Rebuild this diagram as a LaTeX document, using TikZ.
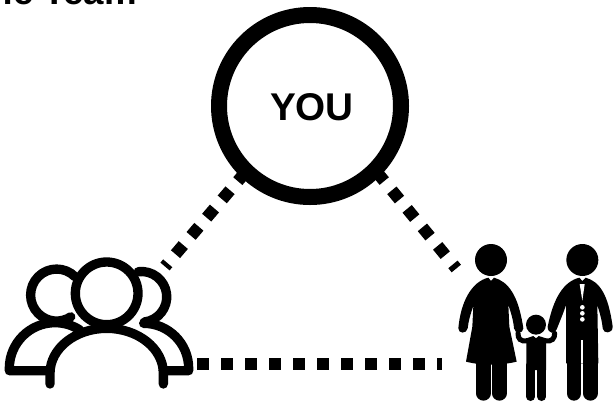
\documentclass[tikz,border=0pt]{standalone}
\usepackage{fontspec}
\setmainfont{Liberation Sans}
\tikzset{
	linkline/.style={line width=9pt, dash pattern=on 9pt off 9pt},
	outline/.style={line width=7pt, line cap=round, line join=round},
	armline/.style={line width=3.8pt, line cap=round},
	legline/.style={line cap=round}
}
\begin{document}
\begin{tikzpicture}[x=0.75pt, y=-0.75pt]
	\useasboundingbox (0,0) rectangle (613,404);
	\clip (0,0) rectangle (613,404);
	\node[anchor=base east, inner sep=0pt, font=\bfseries\fontsize{27.5pt}{27.5pt}\selectfont] (title) at (137,4.5) {The Team};
	% circle at the top
	\node[circle, draw, line width=12pt, minimum size=136.5pt, inner sep=0pt] (you) at (310,106) {};
	\node[font=\bfseries\fontsize{29pt}{29pt}\selectfont] (youtext) at (312,107.5) {YOU};
	% team icon
	\begin{scope}[shift={(0,240)}, x=0.25pt, y=-0.25pt]
		\draw[outline] (225,110) arc[start angle=-45, end angle=-303, radius=78];
		\draw[outline] (320,160) circle[radius=94];
		\draw[outline] (415,95) arc[start angle=-97, end angle=83, radius=76];
		\draw[outline] (140,392) -- (28,392) -- (28,385) arc[start angle=-180, end angle=-57, radius=137];
		\draw[outline] (490,392) -- (566,392) -- (566,385) arc[start angle=0, end angle=-90, radius=135];
		\draw[outline] (150,432) -- (150,400) arc[start angle=-180, end angle=0, x radius=170, y radius=135] -- (490,432);
	\end{scope}
	% family icon
	\begin{scope}[shift={(440,230)}, x=0.25pt, y=-0.25pt]
		\fill (153,90) circle[radius=48];
		\fill (145,143) -- (153,153) -- (162,143) .. controls (205,155) and (235,195) .. (250,295) .. controls (250,312) and (224,312) .. (222,295) .. controls (220,270) and (212,245) .. (205,225) -- (208,290) -- (230,395) .. controls (180,407) and (125,407) .. (78,395) -- (97,290) -- (100,228) .. controls (92,250) and (85,275) .. (83,295) .. controls (80,312) and (55,312) .. (55,295) .. controls (62,215) and (95,155) .. cycle;
		\draw[legline, line width=11pt] (130,395) -- (130,490);
		\draw[legline, line width=11pt] (178,395) -- (178,490);
		\fill (427,90) circle[radius=48];
		\fill (418,143) -- (427,153) -- (437,143) .. controls (480,155) and (505,195) .. (518,290) .. controls (518,312) and (490,312) .. (488,295) .. controls (486,270) and (478,245) .. (472,225) -- (475,400) -- (378,400) -- (378,225) .. controls (370,250) and (355,285) .. (350,298) .. controls (345,315) and (322,310) .. (323,290) .. controls (340,205) and (370,155) .. cycle;
		\draw[legline, line width=11pt] (402,395) -- (402,490);
		\draw[legline, line width=11pt] (451,395) -- (451,490);
		\draw[white, line width=0.8pt] (426,330) -- (426,400);
		\fill[white] (419,162) -- (434,162) -- (427,212) -- cycle;
		\foreach \yb in {232,250,268}
			\fill[white] (427,\yb) circle[radius=7];
		\fill (288,284) circle[radius=30];
		\fill (259,325) -- (280,318) -- (288,325) -- (296,318) -- (318,325) -- (318,420) -- (259,420) -- cycle;
		\draw[armline] (262,332) .. controls (240,336) and (234,325) .. (234,310);
		\draw[armline] (315,332) .. controls (337,336) and (344,325) .. (344,310);
		\draw[legline, line width=6.5pt] (272,405) -- (272,500);
		\draw[legline, line width=6.5pt] (305,405) -- (305,500);
	\end{scope}
	% dotted links
	\coordinate (youleft) at (245.6,172);
	\coordinate (youright) at (376.6,171.8);
	\coordinate (teamtop) at (165,266.5);
	\coordinate (familytop) at (456.3,268.5);
	\coordinate (teamside) at (197,364);
	\coordinate (familyside) at (442,364);
	\draw[linkline] (youleft) -- (teamtop);
	\draw[linkline] (youright) -- (familytop);
	\draw[linkline] (teamside) -- (familyside);
\end{tikzpicture}
\end{document}
